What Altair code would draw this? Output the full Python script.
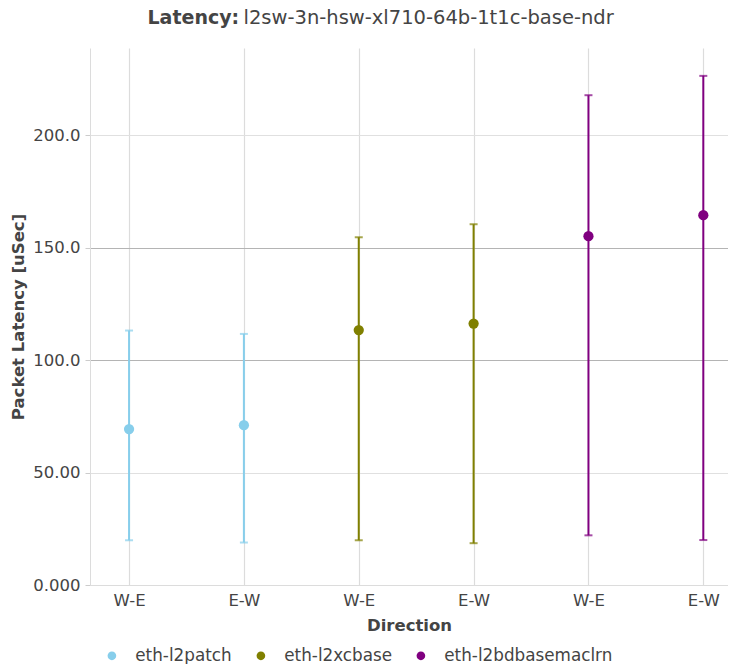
import altair as alt
import pandas as pd

# ---- data ----
SERIES = ["eth-l2patch", "eth-l2xcbase", "eth-l2bdbasemaclrn"]
COLORS = ["#87ceeb", "#808000", "#800080"]
DIRECTIONS = ["W-E", "E-W"]
AVG = [[69.4, 71.1], [113.4, 116.3], [155.2, 164.5]]
MAXV = [[113.2, 111.7], [154.7, 160.5], [217.9, 226.5]]
MINV = [[19.9, 18.9], [19.9, 18.6], [22.1, 20.0]]
Y_TICKS = [0, 50, 100, 150, 200]
TITLE_BOLD = "Latency:"
TITLE_REST = "l2sw-3n-hsw-xl710-64b-1t1c-base-ndr"

rows = []
for si, s in enumerate(SERIES):
    for di, d in enumerate(DIRECTIONS):
        rows.append({"series": s, "sidx": si, "didx": di, "direction": d,
                     "avg": AVG[si][di], "hi": MAXV[si][di], "lo": MINV[si][di]})
df = pd.DataFrame(rows)

FONT = "DejaVu Sans"
TXT = "#444444"

base = alt.Chart(df).transform_calculate(pos="datum.sidx * 2 + datum.didx")

xenc = alt.X("pos:Q", scale=alt.Scale(domain=[-0.34, 5.215], nice=False, zero=False),
             axis=alt.Axis(values=[0, 1, 2, 3, 4, 5],
                           labelExpr="datum.value % 2 == 0 ? 'W-E' : 'E-W'",
                           title="Direction", tickSize=0, labelPadding=7,
                           grid=True, gridColor="#dcdcdc", gridWidth=1.2,
                           domainColor="#dcdcdc", titlePadding=9))
yscale = alt.Scale(domain=[0, 238.9], nice=False)
yaxis = alt.Axis(values=Y_TICKS,
                 labelExpr="datum.value == 0 ? '0.000' : format(datum.value, '.4r')",
                 title="Packet Latency [uSec]",
                 tickSize=5, tickColor="#cccccc", labelPadding=5,
                 gridColor={"condition": {"test": "datum.value == 100 || datum.value == 150",
                                          "value": "#b4b4b4"}, "value": "#e0e0e0"},
                 gridWidth=1.2, domainColor="#dcdcdc", titlePadding=6)
cscale = alt.Scale(domain=SERIES, range=COLORS)

rules = base.mark_rule(strokeWidth=2).encode(
    x=xenc, y=alt.Y("lo:Q", scale=yscale, axis=yaxis), y2="hi:Q",
    color=alt.Color("series:N", scale=cscale, legend=None))
caps_hi = base.mark_tick(orient="horizontal", size=8, thickness=2).encode(
    x="pos:Q", y="hi:Q", color=alt.Color("series:N", scale=cscale, legend=None))
caps_lo = base.mark_tick(orient="horizontal", size=8, thickness=2).encode(
    x="pos:Q", y="lo:Q", color=alt.Color("series:N", scale=cscale, legend=None))
points = base.mark_circle(size=105, opacity=1).encode(
    x="pos:Q", y="avg:Q",
    color=alt.Color("series:N", scale=cscale,
                    legend=alt.Legend(title=None, orient="none", direction="horizontal",
                                      legendX=13.5, legendY=599, symbolType="circle",
                                      symbolSize=75, labelOffset=15, columnPadding=20,
                                      labelFontSize=16.8, labelColor=TXT, labelFont=FONT,
                                      labelLimit=0, padding=0)))

t1 = alt.Chart(pd.DataFrame({"t": [TITLE_BOLD]})).mark_text(
    align="left", baseline="alphabetic", font=FONT, fontSize=19, fontWeight="bold",
    color=TXT).encode(text="t:N", x=alt.value(57.5), y=alt.value(-23.8))
t2 = alt.Chart(pd.DataFrame({"t": [TITLE_REST]})).mark_text(
    align="left", baseline="alphabetic", font=FONT, fontSize=19.5,
    color=TXT).encode(text="t:N", x=alt.value(153.5), y=alt.value(-23.8))

chart = alt.layer(rules, caps_hi, caps_lo, points, t1, t2).resolve_legend(
    color="independent"
).properties(
    width=638, height=537, autosize="none",
    padding={"left": 82, "top": 40, "right": 0, "bottom": 79},
).configure_axis(
    labelFont=FONT, labelFontSize=16.5, labelColor=TXT,
    titleFont=FONT, titleFontSize=16.5, titleColor=TXT, titleFontWeight="bold",
).configure_view(stroke=None)

chart.save("out.html", embed_options={"renderer": "svg", "actions": False})
